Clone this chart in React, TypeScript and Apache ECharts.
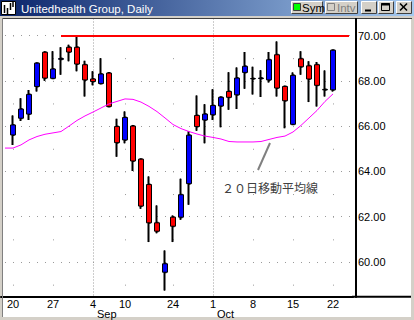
import React, { useEffect, useRef } from "react";
import * as echarts from "echarts";

// Trading days (MM-DD, 2001). First one only carries the moving average; last two are empty space.
const DATES = [
  "08-17", "08-20", "08-21", "08-22", "08-23", "08-24", "08-27", "08-28", "08-29", "08-30", "08-31",
  "09-04", "09-05", "09-06", "09-07", "09-10", "09-17", "09-18", "09-19", "09-20", "09-21",
  "09-24", "09-25", "09-26", "09-27", "09-28", "10-01", "10-02", "10-03", "10-04", "10-05",
  "10-08", "10-09", "10-10", "10-11", "10-12", "10-15", "10-16", "10-17", "10-18", "10-19",
  "10-22", "10-23", "10-24",
];
const CANDLE_DATES = DATES.slice(1, 42);
const OPEN = [
  65.61, 66.35, 66.53, 67.75, 69.26, 68.11, 68.95, 69.48, 69.48, 68.71,
  68.08, 67.88, 68.34, 65.98, 65.39, 66.0, 64.54, 63.42, 61.73, 59.55,
  61.98, 61.98, 63.46, 66.47, 66.27, 66.5, 66.89, 67.53, 67.38, 68.37,
  68.09, 68.1, 68.04, 69.15, 67.75, 66.08, 68.97, 68.66, 68.71, 67.6, 67.6,
];
const CLOSE = [
  66.05, 66.75, 67.4, 68.78, 68.12, 68.52, 68.98, 69.27, 68.74, 68.04,
  67.97, 68.3, 66.87, 65.27, 66.38, 64.46, 62.47, 61.73, 61.36, 59.92,
  61.58, 62.97, 65.6, 65.98, 66.53, 66.91, 67.27, 67.27, 68.12, 68.64,
  68.1, 68.12, 68.93, 67.68, 67.12, 68.24, 68.62, 68.08, 67.8, 67.62, 69.35,
];
const LOW = [
  65.17, 66.23, 66.27, 67.53, 68.0, 68.08, 68.27, 68.86, 68.42, 67.31,
  67.8, 67.85, 66.85, 64.65, 65.24, 64.02, 62.35, 60.88, 61.27, 58.74,
  60.88, 61.87, 62.53, 65.79, 65.24, 66.27, 65.95, 66.72, 66.76, 67.65,
  67.4, 67.29, 67.93, 67.31, 65.91, 66.05, 68.27, 67.06, 66.87, 67.31, 67.53,
];
const HIGH = [
  66.47, 67.23, 67.59, 68.8, 69.3, 69.31, 69.48, 69.59, 70.0, 68.88,
  68.42, 69.0, 68.36, 66.32, 66.65, 66.05, 64.56, 63.78, 62.5, 60.51,
  62.05, 63.68, 65.77, 67.35, 66.97, 67.63, 67.3, 68.38, 68.59, 69.27,
  68.62, 68.47, 69.27, 69.74, 67.78, 68.37, 69.3, 68.86, 68.83, 68.46, 69.36,
];
const MA20_DATES = DATES.slice(0, 42);
const MA20 = [
  65.03, 65.03, 65.17, 65.39, 65.54, 65.64, 65.7, 65.76, 66.0, 66.25,
  66.45, 66.62, 66.8, 66.98, 67.09, 67.2, 67.18, 67.06, 66.87, 66.64,
  66.36, 66.07, 65.89, 65.76, 65.65, 65.56, 65.5, 65.43, 65.32, 65.3,
  65.3, 65.3, 65.32, 65.41, 65.5, 65.56, 65.74, 66.03, 66.36, 66.69,
  67.09, 67.42,
];
const DAY_LABELS = ["08-20", "08-27", "09-04", "09-10", "09-24", "10-01", "10-08", "10-15", "10-22"];
const MONTH_LABELS: Record<string, string> = { "09-04": "Sep", "10-01": "Oct" };
const WEEK_LINES = ["08-20", "08-27", "09-10", "09-24", "10-08", "10-15", "10-22"];
const MONTH_LINES = ["09-04", "10-01"];
const Y_LABELS = [60, 62, 64, 66, 68, 70];
const RESISTANCE = 70;
const RESISTANCE_FROM = "08-28";
const TITLE = "Unitedhealth Group, Daily";
const MA_NOTE = "２０日移動平均線";

const FONT = "'Liberation Sans', Arial, sans-serif";
const Z = 100;

function button(x: number, y: number, w: number, h: number): any[] {
  return [
    { type: "rect", z: Z, shape: { x, y, width: w, height: h }, style: { fill: "#D4D0C8" } },
    {
      type: "polyline", z: Z,
      shape: { points: [[x + 0.5, y + h - 0.5], [x + 0.5, y + 0.5], [x + w - 0.5, y + 0.5]] },
      style: { stroke: "#ffffff", lineWidth: 1, fill: null },
    },
    {
      type: "polyline", z: Z,
      shape: { points: [[x + 0.5, y + h - 0.5], [x + w - 0.5, y + h - 0.5], [x + w - 0.5, y + 0.5]] },
      style: { stroke: "#404040", lineWidth: 1, fill: null },
    },
  ];
}

function chromeElements(): any[] {
  const els: any[] = [];
  // title bar
  els.push({
    type: "rect", z: Z, shape: { x: 0, y: 0, width: 414, height: 16 },
    style: {
      fill: {
        type: "linear", x: 0, y: 0, x2: 1, y2: 0,
        colorStops: [
          { offset: 0, color: "#0A246A" },
          { offset: 1, color: "#A6CAF0" },
        ],
      },
    },
  });
  // icon
  els.push({ type: "rect", z: Z, shape: { x: 1.5, y: 1.5, width: 14, height: 13 }, style: { fill: "#fff", stroke: "#000", lineWidth: 1 } });
  [[4.5, 5, 13], [7.5, 8, 14], [10.5, 3, 10], [13, 2, 7]].forEach(([x, y1, y2]) =>
    els.push({ type: "line", z: Z, shape: { x1: x, y1, x2: x, y2 }, style: { stroke: "#000", lineWidth: 1.5 } })
  );
  els.push({
    type: "text", z: Z, x: 21, y: 8.5,
    style: { text: TITLE, fill: "#fff", fontSize: 11.5, fontFamily: FONT, verticalAlign: "middle", align: "left" },
  });
  // Sym button
  els.push(...button(291, 1, 32, 13));
  els.push({ type: "rect", z: Z, shape: { x: 293.5, y: 3.5, width: 7, height: 7 }, style: { fill: "#00FF00", stroke: "#404040", lineWidth: 1 } });
  els.push({ type: "text", z: Z, x: 302, y: 8, style: { text: "Sym", fill: "#000", fontSize: 11.5, fontFamily: FONT, verticalAlign: "middle" } });
  // Intv button
  els.push(...button(325, 1, 33, 13));
  els.push({ type: "rect", z: Z, shape: { x: 327.5, y: 3.5, width: 7, height: 7 }, style: { fill: "#D4D0C8", stroke: "#808080", lineWidth: 1 } });
  els.push({ type: "text", z: Z, x: 337, y: 8, style: { text: "Intv", fill: "#808080", fontSize: 11.5, fontFamily: FONT, verticalAlign: "middle" } });
  // minimize / maximize / close
  els.push(...button(361, 1, 16, 13));
  els.push({ type: "line", z: Z, shape: { x1: 365, y1: 10.5, x2: 371, y2: 10.5 }, style: { stroke: "#000", lineWidth: 2 } });
  els.push(...button(378, 1, 16, 13));
  els.push({ type: "rect", z: Z, shape: { x: 381.5, y: 3.5, width: 8, height: 7 }, style: { fill: null, stroke: "#000", lineWidth: 1 } });
  els.push({ type: "line", z: Z, shape: { x1: 381, y1: 4.5, x2: 390, y2: 4.5 }, style: { stroke: "#000", lineWidth: 2 } });
  els.push(...button(396, 1, 16, 13));
  els.push({ type: "line", z: Z, shape: { x1: 400, y1: 3.5, x2: 407, y2: 10.5 }, style: { stroke: "#000", lineWidth: 1.6 } });
  els.push({ type: "line", z: Z, shape: { x1: 407, y1: 3.5, x2: 400, y2: 10.5 }, style: { stroke: "#000", lineWidth: 1.6 } });
  // panel borders
  els.push({ type: "line", z: Z, shape: { x1: 2, y1: 18.5, x2: 412, y2: 18.5 }, style: { stroke: "#404040", lineWidth: 1 } });
  els.push({ type: "line", z: Z, shape: { x1: 2.5, y1: 18, x2: 2.5, y2: 317 }, style: { stroke: "#808080", lineWidth: 1 } });
  // price-axis frame line and extension of the date axis line
  els.push({ type: "line", z: Z, shape: { x1: 356, y1: 18, x2: 356, y2: 297.8 }, style: { stroke: "#000", lineWidth: 2 } });
  els.push({ type: "line", z: Z, shape: { x1: 352, y1: 296.8, x2: 411, y2: 296.8 }, style: { stroke: "#000", lineWidth: 2 } });
  // annotation
  els.push({ type: "line", z: Z, shape: { x1: 258, y1: 170, x2: 270, y2: 143 }, style: { stroke: "#808080", lineWidth: 2 } });
  els.push({
    type: "text", z: Z, x: 222, y: 187,
    style: { text: MA_NOTE, fill: "#404040", fontSize: 12, fontFamily: "'Noto Sans CJK JP', sans-serif", verticalAlign: "middle", align: "left" },
  });
  return els;
}

function buildOption(): any {
  const candles = CANDLE_DATES.map((d, i) => [d, OPEN[i], CLOSE[i], LOW[i], HIGH[i]]);
  const ma = MA20_DATES.map((d, i) => [d, MA20[i]]);
  const gridLines: any[] = [];
  WEEK_LINES.forEach((d) =>
    gridLines.push([
      { coord: [d, 71], lineStyle: { color: "#9a9a9a", width: 1, type: [1, 21.65] } },
      { coord: [d, 58.46] },
    ])
  );
  MONTH_LINES.forEach((d) =>
    gridLines.push([
      { coord: [d, 70.75], lineStyle: { color: "#9a9a9a", width: 1, type: [1, 2] } },
      { coord: [d, 58.46] },
    ])
  );
  const lastDate = DATES[DATES.length - 1];
  return {
    animation: false,
    backgroundColor: "transparent",
    grid: { left: 1, right: 61, top: 12.85, bottom: 12.7, show: false, containLabel: false, outerBoundsMode: "none" },
    xAxis: [
      {
        type: "category",
        data: DATES,
        position: "bottom",
        offset: -10.5,
        boundaryGap: true,
        axisLine: { show: true, lineStyle: { color: "#000", width: 2 } },
        axisTick: { show: false },
        splitLine: { show: false },
        axisLabel: {
          interval: (_i: number, v: string) => DAY_LABELS.indexOf(v) >= 0,
          formatter: (v: string) => String(parseInt(v.slice(3), 10)),
          margin: 2,
          fontSize: 11,
          fontFamily: FONT,
          color: "#000",
        },
      },
      {
        type: "category",
        data: DATES,
        position: "bottom",
        offset: 0,
        boundaryGap: true,
        axisLine: { show: false },
        axisTick: { show: false },
        splitLine: { show: false },
        axisLabel: {
          interval: (_i: number, v: string) => v in MONTH_LABELS,
          formatter: (v: string) => MONTH_LABELS[v] || "",
          align: "left",
          padding: [0, 0, 0, 4],
          margin: 1,
          fontSize: 11,
          fontFamily: FONT,
          color: "#000",
        },
      },
    ],
    yAxis: {
      type: "value",
      position: "right",
      offset: 3,
      min: 58,
      max: 71,
      interval: 2,
      axisLine: { show: false },
      axisTick: { show: false },
      axisLabel: {
        margin: 2,
        fontSize: 11,
        fontFamily: FONT,
        color: "#000",
        formatter: (v: number) => (Y_LABELS.indexOf(v) >= 0 ? v.toFixed(2) : ""),
      },
      splitLine: {
        show: true,
        showMinLine: false,
        showMaxLine: false,
        lineStyle: { color: "#9a9a9a", width: 1, type: [1, 7], dashOffset: 4 },
      },
    },
    series: [
      {
        name: "wick",
        type: "candlestick",
        xAxisIndex: 0,
        data: candles,
        encode: { x: 0, y: [1, 2, 3, 4] },
        barWidth: 2,
        silent: true,
        z: 3,
        itemStyle: {
          color: "#000", color0: "#000", borderColor: "#000", borderColor0: "#000",
          borderColorDoji: "#000", borderWidth: 2,
        },
      },
      {
        name: "UNH",
        type: "candlestick",
        xAxisIndex: 0,
        data: candles,
        encode: { x: 0, y: [1, 2, 3, 4] },
        barWidth: 6,
        silent: true,
        z: 4,
        itemStyle: {
          color: "#0000FF", color0: "#FF0000", borderColor: "#000", borderColor0: "#000",
          borderColorDoji: "#000", borderWidth: 1,
        },
        markLine: {
          silent: true,
          symbol: ["none", "none"],
          label: { show: false },
          z: 6,
          data: [
            [
              { coord: [RESISTANCE_FROM, RESISTANCE], lineStyle: { color: "#FF0000", width: 2, type: "solid" } },
              { coord: [lastDate, RESISTANCE] },
            ],
          ],
        },
      },
      {
        name: "MA20",
        type: "line",
        xAxisIndex: 0,
        data: ma,
        showSymbol: false,
        symbol: "none",
        silent: true,
        z: 5,
        lineStyle: { color: "#FF00FF", width: 1 },
        markLine: {
          silent: true,
          symbol: ["none", "none"],
          label: { show: false },
          z: 1,
          data: gridLines,
        },
      },
    ],
    graphic: { elements: chromeElements() },
  };
}

export default function App() {
  const ref = useRef<HTMLDivElement>(null);
  useEffect(() => {
    if (!ref.current) return;
    const chart = echarts.init(ref.current, undefined, { renderer: "svg", width: 414, height: 320 });
    chart.setOption(buildOption());
    return () => chart.dispose();
  }, []);
  return (
    <div style={{ position: "fixed", left: 0, top: 0, width: 414, height: 320, background: "#D4D0C8", overflow: "hidden" }}>
      <div style={{ position: "absolute", left: 2, top: 18, width: 409, height: 299, background: "#ffffff" }} />
      <div ref={ref} style={{ position: "absolute", left: 0, top: 0, width: 414, height: 320 }} />
    </div>
  );
}
